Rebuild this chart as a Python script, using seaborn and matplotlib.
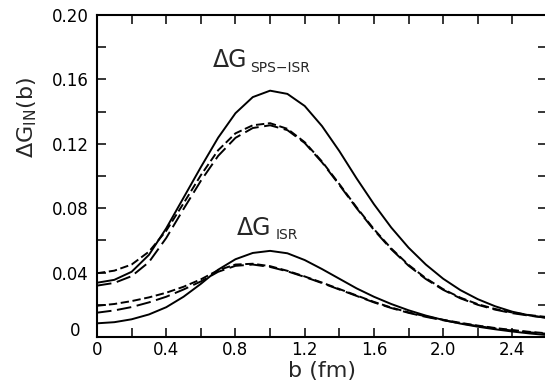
import numpy as np
import pandas as pd
import seaborn as sns
import matplotlib
matplotlib.use("Agg")
import matplotlib.pyplot as plt
from matplotlib.ticker import FixedLocator
from matplotlib.transforms import ScaledTranslation

# ---- data ----
b = [0.0, 0.1, 0.2, 0.3, 0.4, 0.5, 0.6, 0.7, 0.8, 0.9, 1.0, 1.1, 1.2, 1.3,
     1.4, 1.5, 1.6, 1.7, 1.8, 1.9, 2.0, 2.1, 2.2, 2.3, 2.4, 2.5, 2.6]

sps_solid = [0.0337, 0.0355, 0.0405, 0.0510, 0.0675, 0.0865, 0.1055, 0.1238,
             0.1390, 0.1490, 0.1530, 0.1510, 0.1435, 0.1310, 0.1155, 0.0985,
             0.0825, 0.0680, 0.0555, 0.0450, 0.0362, 0.0291, 0.0235, 0.0191,
             0.0157, 0.0134, 0.0118]
sps_short = [0.0396, 0.0412, 0.0450, 0.0530, 0.0660, 0.0830, 0.1005, 0.1160,
             0.1265, 0.1315, 0.1328, 0.1293, 0.1210, 0.1090, 0.0950, 0.0805,
             0.0670, 0.0550, 0.0448, 0.0365, 0.0297, 0.0244, 0.0204, 0.0174,
             0.0152, 0.0136, 0.0124]
sps_long = [0.0319, 0.0336, 0.0378, 0.0465, 0.0615, 0.0795, 0.0970, 0.1125,
            0.1237, 0.1298, 0.1315, 0.1285, 0.1205, 0.1085, 0.0945, 0.0800,
            0.0665, 0.0545, 0.0443, 0.0360, 0.0293, 0.0240, 0.0200, 0.0170,
            0.0148, 0.0132, 0.0120]

isr_solid = [0.0085, 0.0092, 0.0110, 0.0140, 0.0185, 0.0250, 0.0330, 0.0418,
             0.0483, 0.0522, 0.0535, 0.0520, 0.0478, 0.0422, 0.0362, 0.0302,
             0.0250, 0.0205, 0.0166, 0.0133, 0.0106, 0.0083, 0.0064, 0.0048,
             0.0034, 0.0022, 0.0012]
isr_short = [0.0194, 0.0205, 0.0223, 0.0246, 0.0275, 0.0312, 0.0358, 0.0415,
             0.0450, 0.0455, 0.0440, 0.0411, 0.0376, 0.0338, 0.0298, 0.0258,
             0.0218, 0.0183, 0.0153, 0.0128, 0.0107, 0.0088, 0.0071, 0.0056,
             0.0043, 0.0032, 0.0023]
isr_long = [0.0151, 0.0165, 0.0186, 0.0215, 0.0250, 0.0295, 0.0345, 0.0405,
            0.0442, 0.0450, 0.0435, 0.0408, 0.0373, 0.0335, 0.0295, 0.0255,
            0.0215, 0.0180, 0.0150, 0.0125, 0.0104, 0.0085, 0.0068, 0.0053,
            0.0040, 0.0029, 0.0020]

x_ticks = [0.0, 0.2, 0.4, 0.6, 0.8, 1.0, 1.2, 1.4, 1.6, 1.8, 2.0, 2.2, 2.4, 2.6]
x_labels = ["0", "", "0.4", "", "0.8", "", "1.2", "", "1.6", "", "2.0", "", "2.4", ""]
y_ticks = [0.0, 0.02, 0.04, 0.06, 0.08, 0.10, 0.12, 0.14, 0.16, 0.18, 0.20]
y_labels = ["0", "", "0.04", "", "0.08", "", "0.12", "", "0.16", "", "0.20"]

# ---- style ----
sns.set_style("ticks")
plt.rcParams["font.family"] = ["DejaVu Sans"]
plt.rcParams["lines.scale_dashes"] = False
plt.rcParams["mathtext.default"] = "regular"

fig = plt.figure(figsize=(5.45, 3.88), dpi=100)
ax = fig.add_axes([97 / 545, 51 / 388, 450 / 545, 322 / 388])

short_dash = (6.0, 2.6)
long_dash = (10.5, 4.0)
series = [
    (sps_solid, None), (sps_short, short_dash), (sps_long, long_dash),
    (isr_solid, None), (isr_short, short_dash), (isr_long, long_dash),
]
for vals, dash in series:
    sns.lineplot(x=b, y=vals, ax=ax, color="black", linewidth=1.4,
                 estimator=None, sort=False)
    line = ax.lines[-1]
    line.set_solid_joinstyle("round")
    line.set_dash_joinstyle("round")
    if dash is not None:
        line.set_dashes(dash)

ax.set_xlim(0, 2.6)
ax.set_ylim(0, 0.20)

ax.xaxis.set_major_locator(FixedLocator(x_ticks))
ax.set_xticklabels(x_labels)
ax.xaxis.set_minor_locator(FixedLocator([1.0, 2.0]))
ax.yaxis.set_major_locator(FixedLocator(y_ticks))
ax.set_yticklabels(y_labels)

ax.tick_params(which="major", direction="in", length=6.5, width=1.1,
               top=True, right=True, labelsize=12, pad=6, colors="black")
ax.tick_params(axis="x", which="major", pad=3)
ax.tick_params(axis="x", which="minor", direction="in", length=11, width=1.1,
               top=True, bottom=True)
ax.tick_params(axis="y", which="minor", left=False, right=False)
for s in ax.spines.values():
    s.set_linewidth(1.5)
    s.set_color("black")

# shift the y "0" label like the reference
for lab in ax.get_yticklabels():
    if lab.get_text() == "0":
        lab.set_transform(lab.get_transform() +
                          ScaledTranslation(-6 / 72, 6 / 72, fig.dpi_scale_trans))

ax.set_xlabel("b (fm)", fontsize=16, labelpad=1)
ax.set_ylabel("")
fig.text(27 / 545, 1 - 117 / 388, r"$\Delta G_{IN}(b)$", rotation=90,
         ha="center", va="center", fontsize=16)

ax.text(0.669, 0.1677, "ΔG", fontsize=17, ha="left", va="baseline")
ax.text(0.885, 0.1646, "SPS−ISR", fontsize=10, ha="left", va="baseline")
ax.text(0.807, 0.0634, "ΔG", fontsize=17, ha="left", va="baseline")
ax.text(1.030, 0.0610, "ISR", fontsize=10, ha="left", va="baseline")

fig.savefig("out.png", dpi=100)
